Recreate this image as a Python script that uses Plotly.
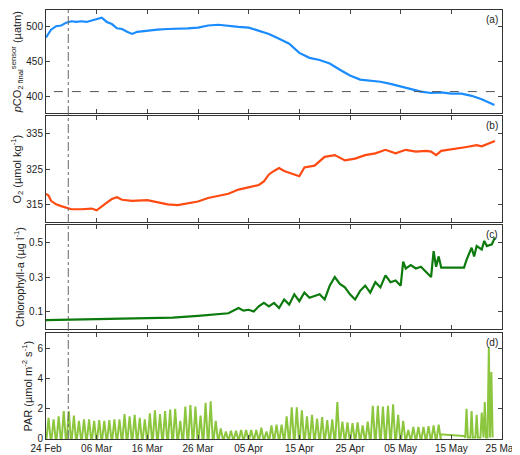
"""Four-panel mooring time series: pCO2, O2, chlorophyll-a and PAR."""

import datetime as dt

import plotly.graph_objects as go
from plotly.subplots import make_subplots

START = dt.datetime(2021, 2, 24)

# pCO2 (uatm), day offset from 24 Feb
pco2_days = [0, 0.5, 1, 2, 3, 4, 5, 6, 7, 8, 9, 10, 11, 12, 13, 14, 15, 16, 17, 18, 19, 20,
             22, 24, 26, 28, 30, 32, 34, 36, 38, 40, 42, 44, 46, 48, 50, 52, 54, 56, 58,
             60, 62, 64, 66, 68, 70, 72, 74, 76, 78, 80, 82, 84, 86, 88.5]
pco2_vals = [484, 490, 495, 500, 501, 505, 507, 506, 507, 506, 508, 509, 512, 506, 503, 497,
             496, 492, 489, 492, 493, 494, 495, 496, 496, 497, 498, 501, 502, 500, 499, 498,
             494, 489, 482, 475, 462, 455, 452, 447, 438, 430, 424, 423, 421, 418, 414, 410,
             407, 405, 406, 404, 404, 401, 396, 388]
pco2_threshold = 407

# O2 (umol/kg)
o2_days = [0, 0.5, 1, 2, 3, 4, 5, 7, 9, 10, 11, 12, 13, 14, 15, 17, 20, 22, 24, 26, 28, 30,
           32, 34, 36, 38, 40, 42, 43, 44, 45, 46, 47, 49, 50, 51, 53, 55, 57, 59, 61, 63,
           65, 67, 69, 71, 73, 75, 76, 77, 78, 83, 85, 86, 87, 88.6]
o2_vals = [318, 317.5, 316, 315, 314.5, 314, 313.6, 313.6, 313.8, 313.3, 314.5, 315.5, 316.5,
           317, 316.3, 316, 316.2, 315.5, 315, 314.8, 315.2, 315.8, 316.8, 317.5, 318, 319.2,
           319.8, 320.5, 321.5, 323.5, 324.5, 325.3, 324.5, 323.5, 323, 325.5, 326, 328.5,
           329, 327.5, 328, 329, 329.5, 330.5, 329.5, 330.5, 330, 330.2, 330, 329, 330.2,
           331.3, 331.8, 331.5, 332, 333]

# Chlorophyll-a (ug/l)
chl_days = [0, 5, 10, 15, 20, 25, 30, 34, 36, 38, 39, 40, 41, 42, 43, 44, 45, 46, 47, 48, 49,
            50, 51, 52, 53, 54, 55, 56, 57, 58, 59, 60, 61, 62, 63, 64, 65, 66, 67, 68, 69,
            70, 70.5, 71, 72, 73, 74, 75, 76, 76.5, 77, 77.5, 78, 82.5, 83, 84, 84.5, 85,
            86, 86.5, 87, 88, 88.6]
chl_vals = [0.05, 0.053, 0.052, 0.055, 0.058, 0.065, 0.075, 0.085, 0.09, 0.12, 0.105, 0.11,
            0.1, 0.13, 0.15, 0.13, 0.15, 0.12, 0.17, 0.14, 0.2, 0.16, 0.21, 0.18, 0.19, 0.2,
            0.17, 0.25, 0.3, 0.26, 0.24, 0.2, 0.17, 0.22, 0.25, 0.21, 0.27, 0.24, 0.31, 0.27,
            0.28, 0.25, 0.39, 0.35, 0.37, 0.35, 0.36, 0.33, 0.3, 0.45, 0.36, 0.42, 0.355,
            0.355, 0.4, 0.47, 0.42, 0.48, 0.46, 0.51, 0.48, 0.49, 0.53]

# PAR daily noon peaks (umol m-2 s-1), one per day from 24 Feb
par_peaks = [1.4, 1.3, 1.5, 1.85, 1.85, 1.55, 1.2, 1.3, 1.3, 1.2, 1.25, 1.2, 1.25, 1.3, 1.3,
             1.65, 1.5, 1.6, 1.4, 1.3, 1.7, 1.9, 1.65, 1.85, 1.95, 2.0, 1.2, 2.15, 2.25,
             2.15, 1.55, 2.4, 2.5, 1.2, 0.7, 0.5, 0.55, 0.55, 0.6, 0.6, 0.6, 0.6, 0.75, 0.5,
             0.9, 0.95, 0.95, 1.5, 2.1, 2.1, 1.9, 1.5, 1.6, 1.35, 1.45, 1.25, 1.3, 2.45,
             1.15, 1.1, 1.05, 1.1, 0.9, 1.15, 2.2, 2.2, 2.15, 2.2, 2.3, 1.6, 1.2, 0.6, 0.8,
             0.8, 0.8, 0.85, 0.9, 0.95]
par_late_days = [83, 84, 85, 86, 86.6, 87.4, 87.9]
par_late_peaks = [2.0, 1.85, 1.6, 1.75, 2.45, 6.1, 4.45]
par_gap_level = 0.3

marker_day = 4.4
x_ticks = [0, 10, 20, 30, 40, 50, 60, 70, 80, 90]


def to_date(d):
    return START + dt.timedelta(days=d)


par_x, par_y = [], []
for i, p in enumerate(par_peaks):
    par_x += [to_date(i + 0.1), to_date(i + 0.5), to_date(i + 0.9)]
    par_y += [0, p, 0]
gap_end = len(par_peaks)
par_x += [to_date(gap_end - 0.1), to_date(gap_end + 0.3), to_date(par_late_days[0] - 0.5)]
par_y += [par_gap_level, par_gap_level, par_gap_level - 0.1]
for d, p in zip(par_late_days, par_late_peaks):
    par_x += [to_date(d - 0.25), to_date(d), to_date(d + 0.25)]
    par_y += [0.1, p, 0.1]

fig = make_subplots(rows=4, cols=1, shared_xaxes=True, vertical_spacing=0.008)
series = [
    (pco2_days, pco2_vals, "#1a8cff"),
    (o2_days, o2_vals, "#ff4a12"),
    (chl_days, chl_vals, "#0d7a0d"),
]
for row, (days, vals, color) in enumerate(series, start=1):
    fig.add_trace(go.Scatter(x=[to_date(d) for d in days], y=vals, mode="lines",
                             line=dict(color=color, width=2.2)), row=row, col=1)
fig.add_trace(go.Scatter(x=par_x, y=par_y, mode="lines",
                         line=dict(color="#8cc63f", width=2)), row=4, col=1)

fig.add_trace(go.Scatter(x=[to_date(-2), to_date(95)], y=[pco2_threshold] * 2, mode="lines",
                         line=dict(color="#555", width=1, dash="dash")), row=1, col=1)

domains = [[0.759, 1.0], [0.506, 0.752], [0.257, 0.498], [0.0, 0.246]]
ranges = [[376, 523], [310, 340], [0.0, 0.6], [0, 7]]
tickv = [[400, 450, 500], [315, 325, 335], [0.1, 0.3, 0.5], [0, 2, 4, 6]]
titles = ["<i>p</i>CO<sub>2 final</sub><sup>sensor</sup> (µatm)",
          "O<sub>2</sub> (µmol kg<sup>-1</sup>)",
          "Chlorophyll-a (µg l<sup>-1</sup>)",
          "PAR (µmol m<sup>-2</sup> s<sup>-1</sup>)"]
letters = ["(a)", "(b)", "(c)", "(d)"]
for i in range(4):
    n = "" if i == 0 else str(i + 1)
    fig.layout["yaxis" + n].update(
        domain=domains[i], range=ranges[i], tickvals=tickv[i], ticks="inside", ticklen=4,
        mirror="ticks", showline=True, linecolor="#333", linewidth=1, showgrid=False,
        zeroline=False, title=dict(text=titles[i], standoff=2, font=dict(size=11)),
        tickfont=dict(size=10),
    )
    fig.layout["xaxis" + n].update(
        range=[to_date(0), to_date(90)], tickvals=[to_date(d) for d in x_ticks],
        tickformat="%d %b", ticks="inside", ticklen=4, mirror="ticks", showline=True,
        linecolor="#333", linewidth=1, showgrid=False, tickfont=dict(size=10),
        showticklabels=(i == 3),
    )
    fig.add_annotation(text=letters[i], xref="x" + n + " domain", yref="y" + n + " domain",
                       x=0.995, y=0.985, xanchor="right", yanchor="top", showarrow=False,
                       font=dict(size=10, color="#222"))

fig.add_shape(type="line", xref="x", yref="paper", x0=to_date(marker_day),
              x1=to_date(marker_day), y0=0, y1=1,
              line=dict(color="#666", width=1, dash="dashdot"))

fig.update_layout(
    width=520, height=455, autosize=False, showlegend=False,
    margin=dict(l=38, r=26, t=2, b=24, autoexpand=False),
    paper_bgcolor="white", plot_bgcolor="white",
    font=dict(family="Liberation Sans, Arial", color="#222"),
)
fig.write_html("out.html", config={"responsive": False})
